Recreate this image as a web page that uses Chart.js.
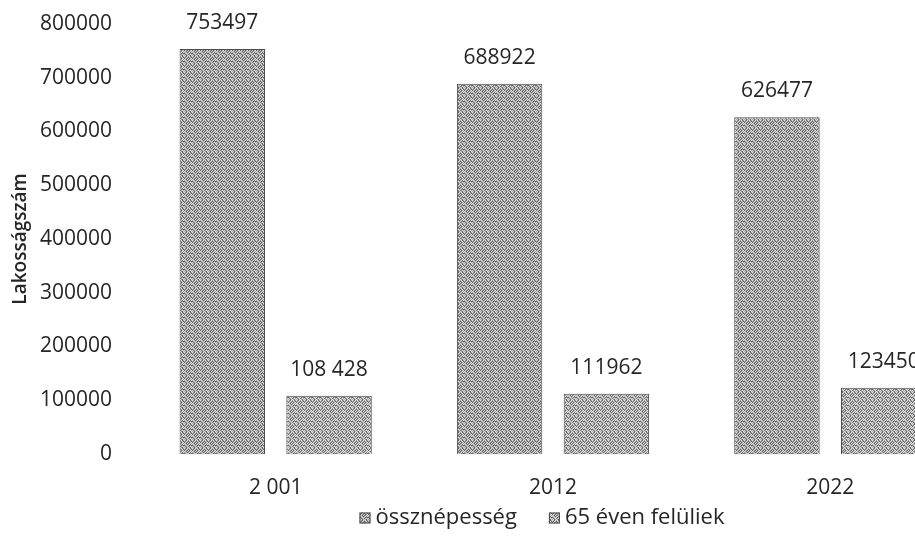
<!DOCTYPE html>
<html>
<head>
<meta charset="utf-8">
<script src="https://cdn.jsdelivr.net/npm/chart.js@4.4.0/dist/chart.umd.min.js"></script>
<style>
  html, body { margin: 0; padding: 0; background: #fff; overflow: hidden; width: 915px; height: 551px; }
  #wrap { width: 980px; height: 551px; }
</style>
</head>
<body>
<div id="wrap"><canvas id="c" width="980" height="551"></canvas></div>
<script>
const categories = ["2 001", "2012", "2022"];
const totalPopulation = [753497, 688922, 626477];
const over65 = [108428, 111962, 123450];
const totalLabels = ["753497", "688922", "626477"];
const over65Labels = ["108 428", "111962", "123450"];
const yTicks = [0, 100000, 200000, 300000, 400000, 500000, 600000, 700000, 800000];
const seriesNames = ["össznépesség", "65 éven felüliek"];

const TEXT = '#262626';
const FONT = '"Open Sans"';

// fixed 8x8 dither tile (texture only)
const tile = [
  "21021201",
  "10210120",
  "02102012",
  "21020121",
  "12101202",
  "01212010",
  "20120121",
  "12012102"
];
function makePattern(shades) {
  const p = document.createElement('canvas');
  p.width = 8; p.height = 8;
  const g = p.getContext('2d');
  for (let y = 0; y < 8; y++) for (let x = 0; x < 8; x++) {
    g.fillStyle = shades[+tile[y][x]];
    g.fillRect(x, y, 1, 1);
  }
  return g.createPattern(p, 'repeat');
}
const ctx0 = document.getElementById('c').getContext('2d');
const pat1 = makePattern(['#5e5e5e', '#a4a4a4', '#dcdcdc']);
const pat2 = makePattern(['#646464', '#acacac', '#e2e2e2']);

const labelPlugin = {
  id: 'valueLabels',
  afterDatasetsDraw(chart) {
    const ctx = chart.ctx;
    const texts = [totalLabels, over65Labels];
    ctx.save();
    ctx.font = '21px ' + FONT;
    ctx.fillStyle = TEXT;
    ctx.textAlign = 'center';
    ctx.textBaseline = 'middle';
    chart.data.datasets.forEach((ds, di) => {
      chart.getDatasetMeta(di).data.forEach((bar, i) => {
        ctx.fillText(texts[di][i], bar.x, bar.y - 26);
      });
    });
    ctx.restore();
  }
};

const legendPlugin = {
  id: 'customLegend',
  afterDraw(chart) {
    const ctx = chart.ctx;
    ctx.save();
    ctx.font = '22px ' + FONT;
    const items = chart.data.datasets.map(ds => ({ text: ds.label, fill: ds.backgroundColor, stroke: ds.borderColor, w: ctx.measureText(ds.label).width }));
    const box = 11, gapText = 5, gapItem = 32;
    let total = 0;
    items.forEach((it, i) => { total += box + gapText + it.w + (i < items.length - 1 ? gapItem : 0); });
    let x = 542 - total / 2;
    const cy = 518;
    ctx.textBaseline = 'middle';
    ctx.textAlign = 'left';
    items.forEach(it => {
      ctx.fillStyle = it.fill;
      ctx.fillRect(x, cy - box / 2, box, box);
      ctx.strokeStyle = it.stroke;
      ctx.lineWidth = 1;
      ctx.strokeRect(x + 0.5, cy - box / 2 + 0.5, box - 1, box - 1);
      x += box + gapText;
      ctx.fillStyle = TEXT;
      ctx.fillText(it.text, x, cy);
      x += it.w + gapItem;
    });
    ctx.restore();
  }
};

new Chart(ctx0, {
  type: 'bar',
  data: {
    labels: categories,
    datasets: [
      { label: seriesNames[0], data: totalPopulation, backgroundColor: pat1, borderColor: '#4a4a4a', borderWidth: 1 },
      { label: seriesNames[1], data: over65, backgroundColor: pat2, borderColor: '#4a4a4a', borderWidth: 1 }
    ]
  },
  options: {
    responsive: false,
    devicePixelRatio: 1,
    animation: false,
    datasets: { bar: { categoryPercentage: 0.77, barPercentage: 0.8 } },
    layout: { padding: { left: 0, right: 11, top: 24, bottom: 52 } },
    plugins: {
      legend: { display: false },
      tooltip: { enabled: false }
    },
    scales: {
      x: {
        afterFit(axis) { axis.height = 45; },
        grid: { display: false, drawTicks: false },
        border: { display: false },
        ticks: { color: TEXT, padding: 21, font: { family: 'Open Sans', size: 21 } }
      },
      y: {
        min: 0, max: 800000,
        afterFit(axis) { axis.width = 137; },
        afterBuildTicks(axis) { axis.ticks = yTicks.map(v => ({ value: v })); },
        grid: { display: false, drawTicks: true, tickLength: 25 },
        border: { display: false },
        title: {
          display: true, text: 'Lakosságszám', color: TEXT,
          font: { family: 'Open Sans', size: 19, weight: '600' },
          padding: { top: 9, bottom: 4 }
        },
        ticks: { color: TEXT, padding: 0, font: { family: 'Open Sans', size: 21 }, callback: v => String(v) }
      }
    }
  },
  plugins: [labelPlugin, legendPlugin]
});
</script>
</body>
</html>
